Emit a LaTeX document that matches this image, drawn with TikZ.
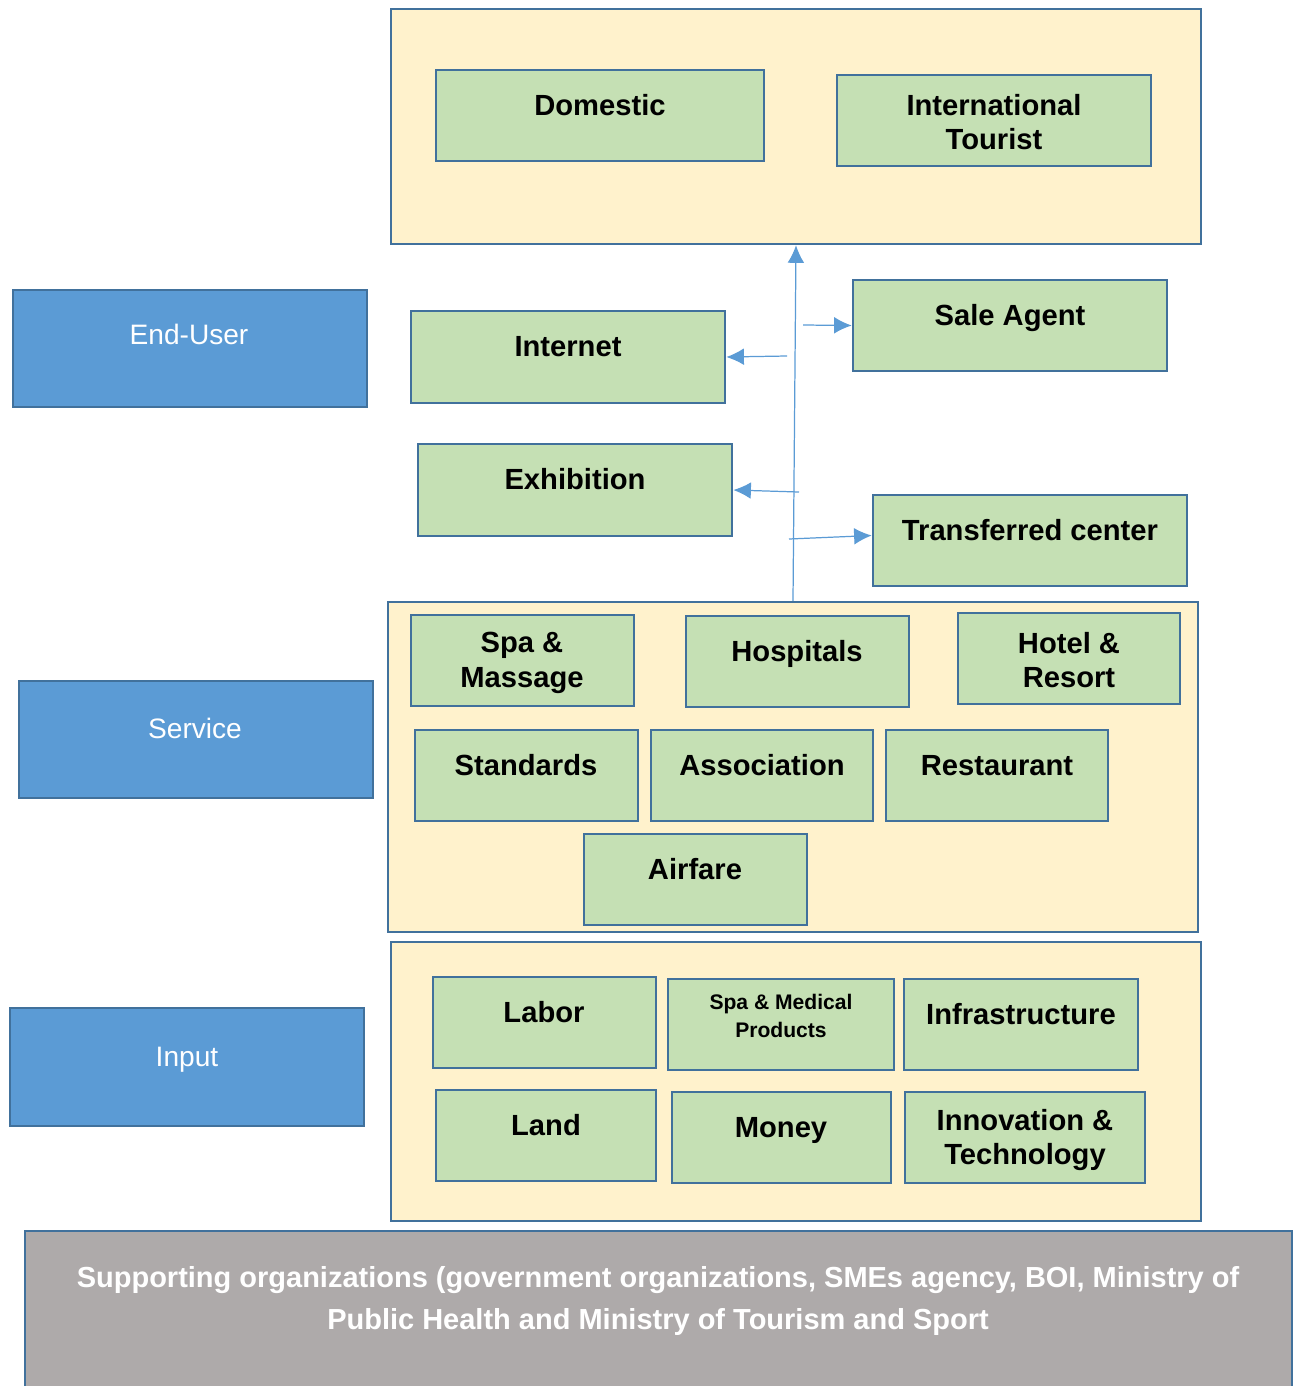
\documentclass[tikz,border=0pt]{standalone}
\usepackage{fontspec}
\setmainfont{Liberation Sans}
\usetikzlibrary{arrows.meta,fit}
\definecolor{cream}{HTML}{FFF2CC}
\definecolor{leaf}{HTML}{C5E0B4}
\definecolor{edge}{HTML}{41719C}
\definecolor{sky}{HTML}{5B9BD5}
\definecolor{stone}{HTML}{AEAAAA}
\tikzset{
  panel/.style={draw=edge, fill=cream, line width=1.4pt, inner sep=0pt},
  cell/.style={draw=edge, fill=leaf, line width=1.5pt, inner sep=0pt},
  side/.style={draw=edge, fill=sky, line width=1.5pt, inner sep=0pt},
  lbl/.style={font=\fontsize{16.6}{19.8}\selectfont\bfseries, align=center, inner sep=0pt},
  sidelbl/.style={text=white, font=\fontsize{16}{19}\selectfont, inner sep=0pt, anchor=base},
  flow/.style={-{Latex[length=10pt,width=9.5pt]}, draw=sky, line width=0.7pt},
}

\begin{document}
\begin{tikzpicture}[x=0.02cm, y=-0.02cm]
  \useasboundingbox (0,0) rectangle (1297,1386);

  % layer labels on the left
  \node[side, fit={(13,290) (367,407)}] (enduser) {};
  \node[sidelbl] (enduser-t) at (189,344) {End-User};
  \node[side, fit={(19,681) (373,798)}] (service) {};
  \node[sidelbl] (service-t) at (195,738) {Service};
  \node[side, fit={(10,1008) (364,1126)}] (input) {};
  \node[sidelbl] (input-t) at (187,1066) {Input};

  % end-user market
  \node[panel, fit={(391,9) (1201,244)}] (market) {};
  \node[cell, fit={(436,70) (764,161)}] (dom) {};
  \node[lbl, anchor=base] (dom-t) at (600,115) {Domestic};
  \node[cell, fit={(837,75) (1151,166)}] (intl) {};
  \node[lbl] (intl-t) at (994,122) {International\\Tourist};

  % channels
  \node[cell, fit={(411,311) (725,403)}] (inet) {};
  \node[lbl, anchor=base] (inet-t) at (568,356) {Internet};
  \node[cell, fit={(853,280) (1167,371)}] (sale) {};
  \node[lbl, anchor=base] (sale-t) at (1010,325) {Sale Agent};
  \node[cell, fit={(418,444) (732,536)}] (exh) {};
  \node[lbl, anchor=base] (exh-t) at (575,489) {Exhibition};
  \node[cell, fit={(873,495) (1187,586)}] (trans) {};
  \node[lbl, anchor=base] (trans-t) at (1030,540) {Transferred center};

  % service providers
  \node[panel, fit={(388,602) (1198,932)}] (svc) {};
  \node[cell, fit={(411,615) (634,706)}] (spa) {};
  \node[lbl] (spa-t) at (522,663) {Spa \&\\Massage};
  \node[cell, fit={(686,616) (909,707)}] (hosp) {};
  \node[lbl, anchor=base] (hosp-t) at (797,661) {Hospitals};
  \node[cell, fit={(958,613) (1180,704)}] (hotel) {};
  \node[lbl] (hotel-t) at (1069,660) {Hotel \&\\Resort};
  \node[cell, fit={(415,730) (638,821)}] (std) {};
  \node[lbl, anchor=base] (std-t) at (526,775) {Standards};
  \node[cell, fit={(651,730) (873,821)}] (assoc) {};
  \node[lbl, anchor=base] (assoc-t) at (762,775) {Association};
  \node[cell, fit={(886,730) (1108,821)}] (rest) {};
  \node[lbl, anchor=base] (rest-t) at (997,775) {Restaurant};
  \node[cell, fit={(584,834) (807,925)}] (air) {};
  \node[lbl, anchor=base] (air-t) at (695,879) {Airfare};

  % inputs
  \node[panel, fit={(391,942) (1201,1221)}] (inp) {};
  \node[cell, fit={(433,977) (656,1068)}] (labor) {};
  \node[lbl, anchor=base] (labor-t) at (544,1022) {Labor};
  \node[cell, fit={(668,979) (894,1070)}] (med) {};
  \node[lbl, font=\fontsize{12}{15.7}\selectfont\bfseries] (med-t) at (781,1016) {Spa \& Medical\\Products};
  \node[cell, fit={(904,979) (1138,1070)}] (infra) {};
  \node[lbl, anchor=base] (infra-t) at (1021,1024) {Infrastructure};
  \node[cell, fit={(436,1090) (656,1181)}] (land) {};
  \node[lbl, anchor=base] (land-t) at (546,1135) {Land};
  \node[cell, fit={(672,1092) (891,1183)}] (money) {};
  \node[lbl, anchor=base] (money-t) at (781,1137) {Money};
  \node[cell, fit={(905,1092) (1145,1183)}] (innov) {};
  \node[lbl] (innov-t) at (1025,1140) {Innovation \&\\Technology};

  % supporting organizations strip
  \node[draw=edge, fill=stone, line width=1.5pt, inner sep=0pt, fit={(25,1231) (1292,1398)}] (support) {};
  \node[lbl, text=white, font=\fontsize{16.5}{24.4}\selectfont\bfseries] (support-t) at (658,1301)
    {Supporting organizations (government organizations, SMEs agency, BOI, Ministry of\\Public Health and Ministry of Tourism and Sport};

  % flow up to the market and out to the channels
  \coordinate (toinet) at (787,356);
  \coordinate (tosale) at (803,325);
  \coordinate (toexh) at (799,492);
  \coordinate (totrans) at (789,539);
  \draw[flow] (svc.north) -- (market.south);
  \draw[flow] (toinet) -- (inet.east);
  \draw[flow] (tosale) -- (sale.west);
  \draw[flow] (toexh) -- (exh.east);
  \draw[flow] (totrans) -- ([yshift=0.1cm]trans.west);
\end{tikzpicture}
\end{document}
